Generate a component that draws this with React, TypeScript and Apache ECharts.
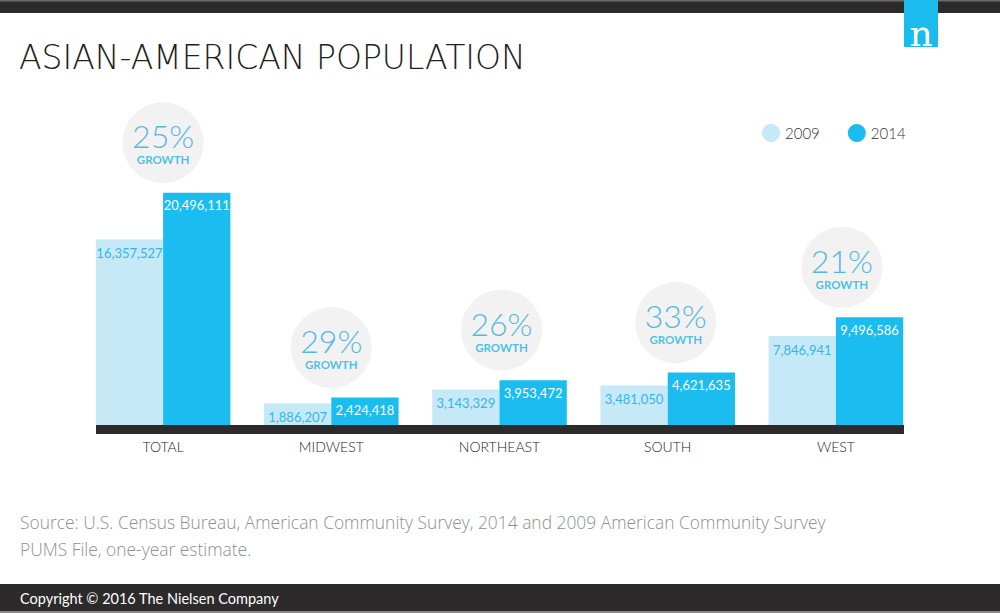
import React, { useEffect, useRef } from "react";
import * as echarts from "echarts";

const categories = ["TOTAL", "MIDWEST", "NORTHEAST", "SOUTH", "WEST"];
const values2009 = [16357527, 1886207, 3143329, 3481050, 7846941];
const values2014 = [20496111, 2424418, 3953472, 4621635, 9496586];
const growthLabels = ["25%", "29%", "26%", "33%", "21%"];
const growthOffsets = [0, 0, 2, 8, 6];

const LIGHT = "#c6e9f8";
const BLUE = "#1bbcef";
const DARK = "#2d2a2b";

export default function App() {
  const ref = useRef<HTMLDivElement>(null);
  useEffect(() => {
    if (!ref.current) return;
    const chart = echarts.init(ref.current, undefined, { renderer: "svg" });
    const fmt = (v: number) => v.toLocaleString("en-US");
    chart.setOption({
      animation: false,
      backgroundColor: "#ffffff",
      textStyle: { fontFamily: "Lato" },
      grid: { left: 79, right: 80, top: 85, height: 340 },
      legend: {
        data: ["2009", "2014"],
        left: 757,
        top: 119,
        icon: "circle",
        itemWidth: 18,
        itemHeight: 18,
        itemGap: 28,
        textStyle: { fontSize: 15, color: "#333", fontFamily: "Lato", fontWeight: 300 },
      },
      xAxis: {
        type: "category",
        data: categories,
        axisLine: { show: false },
        axisTick: { show: false },
        axisLabel: { margin: 14, fontSize: 14, color: "#231f20", fontFamily: "Lato", fontWeight: 300 },
      },
      yAxis: {
        type: "value",
        min: 0,
        max: 30000000,
        show: false,
        splitLine: { show: false },
      },
      series: [
        {
          name: "2009",
          type: "bar",
          data: values2009,
          barGap: "0%",
          barCategoryGap: "20%",
          itemStyle: { color: LIGHT },
          label: {
            show: true,
            position: "insideTop",
            distance: 7,
            formatter: (p: any) => fmt(p.value),
            color: "#35b6e8",
            fontSize: 13,
            fontFamily: "Lato",
          },
        },
        {
          name: "2014",
          type: "bar",
          data: values2014,
          itemStyle: { color: BLUE },
          label: {
            show: true,
            position: "insideTop",
            distance: 6,
            formatter: (p: any) => fmt(p.value),
            color: "#ffffff",
            fontSize: 13,
            fontFamily: "Lato",
          },
        },
        {
          name: "growth",
          type: "scatter",
          symbol: "circle",
          symbolSize: 81,
          data: categories.map((c, i) => ({
            value: [c, values2014[i]],
            symbolOffset: [growthOffsets[i], -50],
          })),
          itemStyle: { color: "#efefef" },
          label: {
            show: true,
            position: "inside",
            formatter: (p: any) => `{p|${growthLabels[p.dataIndex]}}\n{g|GROWTH}`,
            rich: {
              p: { fontSize: 32, fontWeight: 300, color: "#2aa9df", fontFamily: "Lato", lineHeight: 34 },
              g: { fontSize: 11.5, fontWeight: "bold", color: "#1bb4e9", fontFamily: "Lato", lineHeight: 14 },
            },
          },
          z: 1,
        },
      ],
      graphic: [
        { type: "rect", shape: { x: 0, y: 0, width: 1000, height: 13 }, style: { fill: DARK } },
        { type: "rect", shape: { x: 0, y: 0, width: 1000, height: 1.5 }, style: { fill: "#6b6b6b" } },
        { type: "rect", shape: { x: 904, y: 0, width: 34, height: 47 }, style: { fill: "#1cbbef" } },
        {
          type: "text",
          x: 921,
          y: 33,
          style: {
            text: "n",
            font: "36px 'DejaVu Serif'",
            fill: "#ffffff",
            align: "center",
            verticalAlign: "middle",
          },
        },
        {
          type: "text",
          x: 19,
          y: 57,
          style: {
            text: "ASIAN-AMERICAN POPULATION",
            font: "200 33px 'DejaVu Sans'",
            fill: "#231f20",
            verticalAlign: "middle",
          },
        },
        { type: "rect", shape: { x: 96, y: 425, width: 808, height: 9 }, style: { fill: DARK }, z: 10 },
        {
          type: "text",
          x: 20,
          y: 522,
          style: {
            text: "Source: U.S. Census Bureau, American Community Survey, 2014 and 2009 American Community Survey",
            font: "300 17.4px 'Open Sans'",
            fill: "#8f8f8f",
            verticalAlign: "middle",
          },
        },
        {
          type: "text",
          x: 20,
          y: 549,
          style: {
            text: "PUMS File, one-year estimate.",
            font: "300 17.4px 'Open Sans'",
            fill: "#8f8f8f",
            verticalAlign: "middle",
          },
        },
        { type: "rect", shape: { x: 0, y: 584, width: 1000, height: 27 }, style: { fill: DARK } },
        { type: "rect", shape: { x: 0, y: 611, width: 1000, height: 2 }, style: { fill: "#8a8a8a" } },
        {
          type: "text",
          x: 20,
          y: 598,
          style: {
            text: "Copyright © 2016 The Nielsen Company",
            font: "14.5px Lato",
            fill: "#ffffff",
            verticalAlign: "middle",
          },
        },
      ],
    });
    return () => chart.dispose();
  }, []);
  return (
    <div
      ref={ref}
      style={{ position: "fixed", left: 0, top: 0, width: 1000, height: 613, background: "#fff" }}
    />
  );
}
